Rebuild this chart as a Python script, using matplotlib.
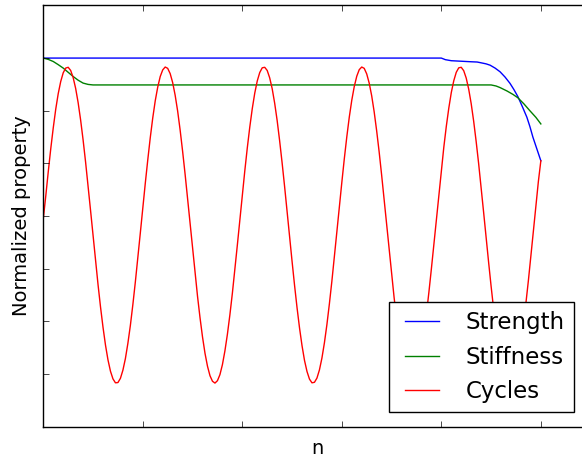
import matplotlib
matplotlib.use('Agg')
import matplotlib.pyplot as plt
import numpy as np

plt.style.use('classic')

# Data
strength_x = [0.0, 4.0, 4.04, 4.1, 4.2, 4.3, 4.36, 4.4, 4.45, 4.49, 4.54, 4.59,
              4.64, 4.69, 4.73, 4.77, 4.815, 4.86, 4.89, 4.92, 4.96, 5.0]
strength_y = [1.0, 1.0, 0.994, 0.99, 0.988, 0.986, 0.985, 0.982, 0.978, 0.973, 0.962, 0.948,
              0.928, 0.904, 0.88, 0.853, 0.815, 0.775, 0.74, 0.70, 0.655, 0.61]

stiffness_x = [0.0, 0.05, 0.1, 0.15, 0.2, 0.25, 0.3, 0.35, 0.4, 0.45, 0.5, 0.55,
               4.5, 4.55, 4.59, 4.66, 4.72, 4.77, 4.83, 4.89, 4.95, 5.0]
stiffness_y = [1.0, 0.995, 0.987, 0.975, 0.962, 0.946, 0.93, 0.916, 0.905, 0.9, 0.898, 0.898,
               0.898, 0.894, 0.888, 0.875, 0.862, 0.849, 0.826, 0.8, 0.775, 0.75]

# cycles sampled every 0.025 in n
cycles_x = [i * 0.025 for i in range(201)]
cycles_y = [0.39, 0.477, 0.569, 0.656, 0.735, 0.806, 0.865, 0.911, 0.944, 0.962,
            0.965, 0.953, 0.926, 0.885, 0.831, 0.765, 0.689, 0.605, 0.515, 0.421,
            0.326, 0.231, 0.140, 0.055, -0.022, -0.090, -0.146, -0.189, -0.218, -0.233,
            -0.232, -0.216, -0.185, -0.141, -0.083, -0.015, 0.064, 0.150, 0.241, 0.336,
            0.431, 0.525, 0.614, 0.698, 0.773, 0.838, 0.890, 0.930, 0.955, 0.966,
            0.961, 0.941, 0.907, 0.859, 0.799, 0.727, 0.646, 0.559, 0.466, 0.372,
            0.276, 0.183, 0.095, 0.014, -0.059, -0.121, -0.170, -0.206, -0.227, -0.234,
            -0.225, -0.202, -0.164, -0.112, -0.049, 0.025, 0.107, 0.197, 0.290, 0.385,
            0.480, 0.572, 0.659, 0.738, 0.808, 0.867, 0.913, 0.945, 0.963, 0.965,
            0.953, 0.925, 0.884, 0.829, 0.763, 0.686, 0.602, 0.512, 0.417, 0.322,
            0.228, 0.137, 0.052, -0.025, -0.092, -0.148, -0.190, -0.219, -0.233, -0.231,
            -0.215, -0.184, -0.139, -0.081, -0.012, 0.067, 0.153, 0.245, 0.340, 0.435,
            0.528, 0.618, 0.701, 0.776, 0.840, 0.892, 0.931, 0.956, 0.966, 0.961,
            0.940, 0.905, 0.857, 0.796, 0.724, 0.644, 0.556, 0.463, 0.368, 0.273,
            0.180, 0.092, 0.011, -0.061, -0.123, -0.171, -0.207, -0.228, -0.234, -0.225,
            -0.200, -0.162, -0.110, -0.047, 0.028, 0.111, 0.200, 0.293, 0.389, 0.483,
            0.575, 0.662, 0.741, 0.810, 0.869, 0.914, 0.946, 0.963, 0.965, 0.952,
            0.924, 0.882, 0.827, 0.760, 0.683, 0.599, 0.508, 0.414, 0.319, 0.225,
            0.134, 0.049, -0.028, -0.094, -0.149, -0.192, -0.220, -0.233, -0.231, -0.214,
            -0.182, -0.137, -0.079, -0.009, 0.070, 0.156, 0.248, 0.343, 0.438, 0.531,
            0.61]

labels = ['Strength', 'Stiffness', 'Cycles']

fig = plt.figure(figsize=(5.82, 4.58), dpi=100, facecolor='white')
ax = fig.add_axes([43.3 / 582, 31.2 / 458, 547.3 / 582, 421.4 / 458])

ax.plot(strength_x, strength_y, color='b', label=labels[0])
ax.plot(stiffness_x, stiffness_y, color='g', label=labels[1])
ax.plot(cycles_x, cycles_y, color='r', label=labels[2])

ax.set_xlim(0, 5.5)
ax.set_ylim(-0.4, 1.2)
ax.set_xticks(np.arange(0, 6, 1))
ax.set_yticks(np.arange(-0.4, 1.21, 0.2))
ax.set_xticklabels([])
ax.set_yticklabels([])

ax.set_xlabel('n', fontsize=14)
ax.set_ylabel('Normalized property', fontsize=14)

ax.legend(loc='lower right', bbox_to_anchor=(574 / 582, 45.7 / 458),
          bbox_transform=fig.transFigure, borderaxespad=0, fontsize=16.5,
          handlelength=2.1, handletextpad=0.85)

fig.savefig('out.png', dpi=100, facecolor='white')
